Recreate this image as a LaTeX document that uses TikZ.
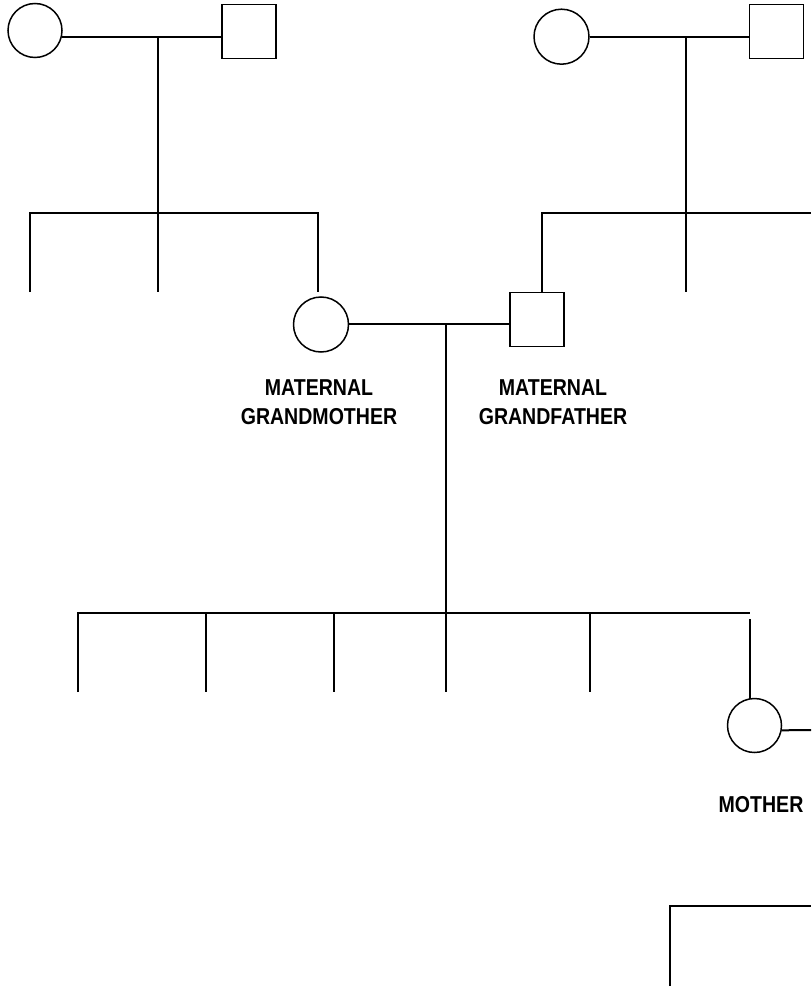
\documentclass[tikz,border=0pt]{standalone}
\usepackage{fontspec}
\newfontfamily\lblfont{Liberation Sans}[FakeStretch=0.85]
\begin{document}
\begin{tikzpicture}[x=1pt,y=-1pt,
  lw/.style={line width=2pt},
  fem/.style={circle, draw, line width=1.5pt, minimum size=54pt, inner sep=0pt},
  mal/.style={rectangle, draw, line width=1.5pt, minimum size=54pt, inner sep=0pt},
  lbl/.style={font=\lblfont\bfseries\fontsize{23}{29}\selectfont, align=center, inner sep=0pt}]
\useasboundingbox (0,0) rectangle (811,987);
% top-left couple
\node[fem] (ggm1) at (35,30.5) {};
\node[mal] (ggf1) at (249,31.7) {};
\coordinate (m1) at (158,37);
\draw[lw] (ggm1.-14) -- (ggf1.west |- ggm1.-14);
\draw[lw] (m1) -- (158,292);
\draw[lw] (30,292) -- (30,213) -- (318,213) -- (318,292);
% top-right couple
\node[fem, minimum size=55pt] (ggm2) at (561.5,36.7) {};
\node[mal] (ggf2) at (776.7,31.7) {};
\coordinate (m2) at (686,36.7);
\draw[lw] (ggm2.east) -- (ggf2.west |- ggm2.east);
\draw[lw] (m2) -- (686,292);
% grandparents
\node[fem, minimum size=55pt] (gm) at (321,324.5) {};
\node[mal] (gf) at (537,319.7) {};
\draw[lw] (542,292.7) -- (542,213) -- (811,213);
\coordinate (m3) at (446,324.3);
\draw[lw] (gm.east |- m3) -- (gf.west |- m3);
\draw[lw] (m3) -- (446,692);
\node[lbl] (lgm) at (319,402.5) {MATERNAL\\GRANDMOTHER};
\node[lbl] (lgf) at (553,402.5) {MATERNAL\\GRANDFATHER};
% children
\draw[lw] (78,692) -- (78,613) -- (750,613);
\foreach \xx in {206,334,590} \draw[lw] (\xx,613) -- (\xx,692);
\node[fem] (mo) at (754.5,725.5) {};
\draw[lw] (750,619) -- (750,698.5);
\draw[lw] (mo.-10) -- (811,730);
\node[lbl] (lmo) at (761,805) {MOTHER};
% bottom
\draw[lw] (669.5,986) -- (669.5,906) -- (811,906);
\end{tikzpicture}
\end{document}
